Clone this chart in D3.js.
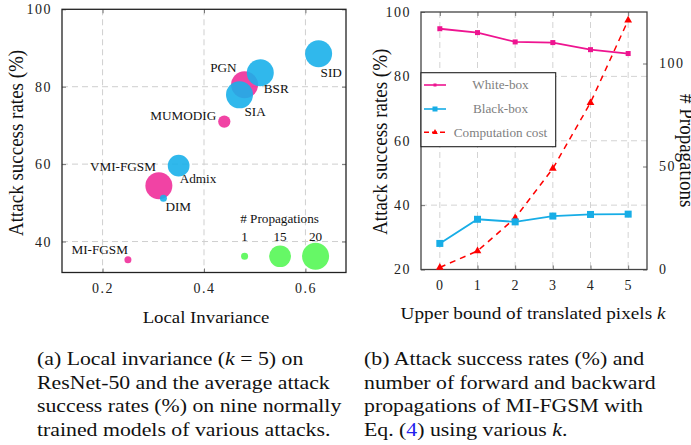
<!DOCTYPE html>
<html><head><meta charset="utf-8">
<script src="https://cdn.jsdelivr.net/npm/d3@7"></script>
<style>
html,body{margin:0;padding:0;background:#fff;}
svg{display:block;font-family:"Liberation Serif","Times New Roman",serif;}
</style></head>
<body>
<svg id="chart" width="691" height="445"></svg>
<script>
// ---------- (a) scatter data ----------
const methods      = ["MI-FGSM","MUMODIG","VMI-FGSM","PGN","DIM","Admix","BSR","SIA","SID"];
const invariance   = [0.25, 0.44, 0.311, 0.48, 0.32, 0.35, 0.511, 0.47, 0.626];
const asrAvg       = [35.3, 71.0, 54.4, 80.5, 51.2, 59.6, 83.6, 77.9, 88.5];
const propagations = [1, 6, 20, 20, 1, 15, 20, 20, 20];
const groups       = ["pink","pink","pink","pink","blue","blue","blue","blue","blue"];
const legendSizes  = [1, 15, 20];
const legendX      = [0.48, 0.55, 0.62];
const legendY      = 36.2;
const xTicksA = [0.2, 0.4, 0.6];
const yTicksA = [40, 60, 80, 100];

// ---------- (b) line data ----------
const kValues     = [0, 1, 2, 3, 4, 5];
const whiteBox    = [94.8, 93.6, 90.7, 90.5, 88.3, 87.1];
const blackBox    = [28.1, 35.6, 34.8, 36.6, 37.1, 37.2];
const compCost    = [1, 9, 25, 49, 81, 121];
const yTicksB     = [20, 40, 60, 80, 100];
const yTicksBR    = [0, 50, 100];
const seriesNames = ["White-box", "Black-box", "Computation cost"];

const svg = d3.select("#chart");
const PINK = "#ef2f9a", BLUE = "#1ab0ea", GREEN = "#66f866";
const LPINK = "#ee1490", LBLUE = "#17ade6", RED = "#ff0000";
const SQ = 0.87; // vertical squash of glyphs seen in the reference

// helper: horizontal text with squashed glyphs
function htext(g, x, y, size, anchor){
  return g.append("text").attr("transform",`translate(${x},${y}) scale(1,${SQ})`)
    .attr("font-size",size).attr("text-anchor",anchor||"start").attr("fill","#111");
}

// ================= Panel (a) =================
const A = {l:62, r:346, t:9.3, b:272.5};
const xa = d3.scaleLinear().domain([0.12, 0.68]).range([A.l, A.r]);
const ya = d3.scaleLinear().domain([32, 100]).range([A.b, A.t]);
const ra = d3.scaleLinear().domain([1, 20]).range([3.5, 13.5]);
const ga = svg.append("g");

// grid
ga.selectAll(".gx").data(xTicksA).join("line")
  .attr("x1", d=>xa(d)).attr("x2", d=>xa(d)).attr("y1", A.t).attr("y2", A.b)
  .attr("stroke","#cfcfcf").attr("stroke-dasharray","6,4");
ga.selectAll(".gy").data(yTicksA.filter(d=>d<100)).join("line")
  .attr("y1", d=>ya(d)).attr("y2", d=>ya(d)).attr("x1", A.l).attr("x2", A.r)
  .attr("stroke","#cfcfcf").attr("stroke-dasharray","6,4");

// axes via d3
const axA_b = ga.append("g").attr("transform",`translate(0,${A.b})`)
  .call(d3.axisBottom(xa).tickValues(xTicksA).tickSize(-4).tickPadding(11).tickFormat(d3.format(".1f")));
const axA_t = ga.append("g").attr("transform",`translate(0,${A.t})`)
  .call(d3.axisTop(xa).tickValues(xTicksA).tickSize(-4).tickFormat(""));
const axA_l = ga.append("g").attr("transform",`translate(${A.l},0)`)
  .call(d3.axisLeft(ya).tickValues(yTicksA).tickSize(-4).tickPadding(10));
const axA_r = ga.append("g").attr("transform",`translate(${A.r},0)`)
  .call(d3.axisRight(ya).tickValues(yTicksA).tickSize(-4).tickFormat(""));
[axA_b,axA_t,axA_l,axA_r].forEach(g=>{
  g.select(".domain").remove();
  g.selectAll(".tick line").attr("stroke","#777");
  g.selectAll("text").attr("font-family","Liberation Serif").attr("font-size",14)
    .attr("letter-spacing","1.5px").attr("fill","#222");
});
ga.append("rect").attr("x",A.l).attr("y",A.t).attr("width",A.r-A.l).attr("height",A.b-A.t)
  .attr("fill","none").attr("stroke","#222").attr("stroke-width",1.3);

// points
const pts = methods.map((m,i)=>({m, x:invariance[i], y:asrAvg[i], n:propagations[i], g:groups[i]}));
ga.selectAll(".pt").data(pts).join("circle")
  .attr("cx", d=>xa(d.x)).attr("cy", d=>ya(d.y)).attr("r", d=>ra(d.n))
  .attr("fill", d=>d.g==="pink"?PINK:BLUE).attr("fill-opacity",0.9);

// point labels (offsets from marker)
const labelOff = {
  "SID":[2,23,"start"], "BSR":[3.5,20.5,"start"], "PGN":[-8,-13,"end"],
  "SIA":[5,21,"start"], "MUMODIG":[-8,-2,"end"], "VMI-FGSM":[-3,-15,"end"],
  "Admix":[1,17,"start"], "DIM":[2,12.5,"start"], "MI-FGSM":[0,-6,"end"]
};
pts.forEach(d=>{
  htext(ga, xa(d.x)+labelOff[d.m][0], ya(d.y)+labelOff[d.m][1], 13.2, labelOff[d.m][2]).text(d.m);
});

// size legend
ga.selectAll(".lgc").data(legendSizes).join("circle")
  .attr("cx",(d,i)=>xa(legendX[i])).attr("cy", ya(legendY)).attr("r", d=>ra(d))
  .attr("fill",GREEN);
legendSizes.forEach((d,i)=>{
  htext(ga, xa(legendX[i]), ya(legendY)-15.5, 13.2, "middle").text(d);
});
htext(ga, xa(legendX[1])-0.5, ya(legendY)-33.5, 13.2, "middle").text("# Propagations");

// axis titles
htext(ga, 206, 323, 18.8, "middle").text("Local Invariance");
ga.append("text").attr("transform",`translate(23,${(A.t+A.b)/2+2}) rotate(-90) scale(1,1.1)`)
  .attr("text-anchor","middle").attr("font-size",19).attr("fill","#111").text("Attack success rates (%)");

// ================= Panel (b) =================
const B = {l:421, r:647, t:12, b:269.5};
const xb = d3.scaleLinear().domain([-0.5, 5.5]).range([B.l, B.r]);
const yb = d3.scaleLinear().domain([20, 100]).range([B.b, B.t]);
const ybr = d3.scaleLinear().domain([0, 125]).range([B.b, B.t]);
const gb = svg.append("g");

gb.selectAll(".gx").data(kValues).join("line")
  .attr("x1", d=>xb(d)).attr("x2", d=>xb(d)).attr("y1", B.t).attr("y2", B.b)
  .attr("stroke","#d3d3d3").attr("stroke-dasharray","6,4");
gb.selectAll(".gy").data(yTicksB.filter(d=>d>20 && d<100)).join("line")
  .attr("y1", d=>yb(d)).attr("y2", d=>yb(d)).attr("x1", B.l).attr("x2", B.r)
  .attr("stroke","#d3d3d3").attr("stroke-dasharray","6,4");

const axB_b = gb.append("g").attr("transform",`translate(0,${B.b})`)
  .call(d3.axisBottom(xb).tickValues(kValues).tickSize(-4).tickPadding(11).tickFormat(d3.format("d")));
const axB_t = gb.append("g").attr("transform",`translate(0,${B.t})`)
  .call(d3.axisTop(xb).tickValues(kValues).tickSize(-4).tickFormat(""));
const axB_l = gb.append("g").attr("transform",`translate(${B.l},0)`)
  .call(d3.axisLeft(yb).tickValues(yTicksB).tickSize(-4).tickPadding(10));
const axB_r = gb.append("g").attr("transform",`translate(${B.r},0)`)
  .call(d3.axisRight(ybr).tickValues(yTicksBR).tickSize(-4).tickPadding(12));
[axB_b,axB_t,axB_l,axB_r].forEach(g=>{
  g.select(".domain").remove();
  g.selectAll(".tick line").attr("stroke","#777");
  g.selectAll("text").attr("font-family","Liberation Serif").attr("font-size",14)
    .attr("letter-spacing","1.5px").attr("fill","#222");
});
gb.append("rect").attr("x",B.l).attr("y",B.t).attr("width",B.r-B.l).attr("height",B.b-B.t)
  .attr("fill","none").attr("stroke","#444").attr("stroke-width",1.3);

const lineL = d3.line().x((d,i)=>xb(kValues[i])).y(d=>yb(d));
const lineR = d3.line().x((d,i)=>xb(kValues[i])).y(d=>ybr(d));

// computation cost (right axis)
gb.append("path").datum(compCost).attr("d",lineR).attr("fill","none")
  .attr("stroke",RED).attr("stroke-width",1.5).attr("stroke-dasharray","6,5");
const tri = d3.symbol().type(d3.symbolTriangle).size(26);
gb.selectAll(".tri").data(compCost).join("path").attr("d",tri)
  .attr("transform",(d,i)=>`translate(${xb(kValues[i])},${ybr(d)})`).attr("fill",RED);

// white-box
gb.append("path").datum(whiteBox).attr("d",lineL).attr("fill","none")
  .attr("stroke",LPINK).attr("stroke-width",1.8);
gb.selectAll(".wb").data(whiteBox).join("rect")
  .attr("x",(d,i)=>xb(kValues[i])-2.5).attr("y",d=>yb(d)-2.5).attr("width",5).attr("height",5)
  .attr("fill",LPINK);

// black-box
gb.append("path").datum(blackBox).attr("d",lineL).attr("fill","none")
  .attr("stroke",LBLUE).attr("stroke-width",1.8);
gb.selectAll(".bb").data(blackBox).join("rect")
  .attr("x",(d,i)=>xb(kValues[i])-3.5).attr("y",d=>yb(d)-3.5).attr("width",7).attr("height",7)
  .attr("fill",LBLUE);

// legend
const lg = gb.append("g");
lg.append("rect").attr("x",B.l).attr("y",72.7).attr("width",134.7).attr("height",74)
  .attr("fill","#fff").attr("stroke","#222").attr("stroke-width",1.1);
const legY = [85, 109, 132.3];
const legCol = [LPINK, LBLUE, RED];
seriesNames.forEach((s,i)=>{
  lg.append("line").attr("x1",424).attr("x2",446).attr("y1",legY[i]).attr("y2",legY[i])
    .attr("stroke",legCol[i]).attr("stroke-width",1.6)
    .attr("stroke-dasharray", i===2 ? "5,3" : null);
  if(i===0) lg.append("rect").attr("x",433.5).attr("y",legY[i]-1.5).attr("width",3).attr("height",3).attr("fill",LPINK);
  if(i===1) lg.append("rect").attr("x",432.5).attr("y",legY[i]-2.5).attr("width",5).attr("height",5).attr("fill",LBLUE);
  if(i===2) lg.append("path").attr("d",d3.symbol().type(d3.symbolTriangle).size(14)).attr("transform",`translate(435,${legY[i]})`).attr("fill",RED);
  htext(lg, 500.5, legY[i]+4.3, 13.2, "middle").attr("fill","#808080").text(s);
});

// axis titles
const xt = htext(gb, 533, 319, 19.2, "middle");
xt.append("tspan").text("Upper bound of translated pixels ");
xt.append("tspan").attr("font-style","italic").text("k");
gb.append("text").attr("transform",`translate(387,${(B.t+B.b)/2+1}) rotate(-90) scale(1,1.1)`)
  .attr("text-anchor","middle").attr("font-size",19).attr("fill","#111").text("Attack success rates (%)");
gb.append("text").attr("transform",`translate(680,${(B.t+B.b)/2+10}) rotate(90) scale(1,1.1)`)
  .attr("text-anchor","middle").attr("font-size",19).attr("fill","#111").text("# Propagations");

// ================= captions =================
const capA = [
  [["(a) Local invariance ("],["k","i"],[" = 5) on"]],
  [["ResNet-50 and the average attack"]],
  [["success rates (%) on nine normally"]],
  [["trained models of various attacks."]]
];
const capB = [
  [["(b) Attack success rates (%) and"]],
  [["number of forward and backward"]],
  [["propagations of MI-FGSM with"]],
  [["Eq. ("],["4","b"],[") using various "],["k","i"],["."]]
];
const capY = [365, 388.5, 412, 435.5];
function caption(lines, x){
  lines.forEach((parts,li)=>{
    const t = svg.append("text").attr("transform",`translate(${x},${capY[li]}) scale(1,0.85)`)
      .attr("font-size",21.8).attr("fill","#111");
    parts.forEach(p=>{
      const ts = t.append("tspan").text(p[0]);
      if(p[1]==="i") ts.attr("font-style","italic");
      if(p[1]==="b") ts.attr("fill","#2222ee");
    });
  });
}
caption(capA, 37);
caption(capB, 364);
</script>
</body></html>
